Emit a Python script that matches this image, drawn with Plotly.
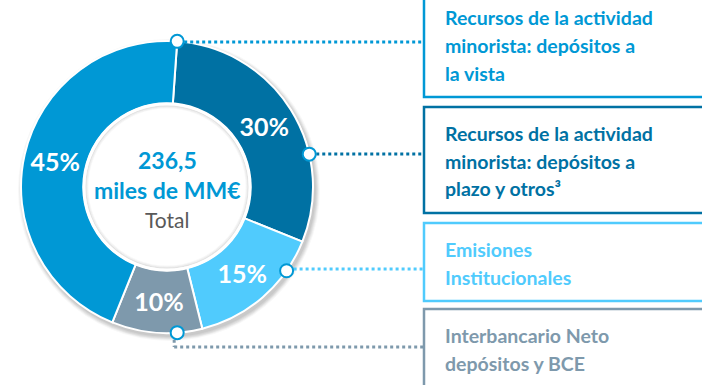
import math
import plotly.graph_objects as go

# Funding structure (share of total, %)
categories = [
    "Recursos de la actividad minorista: depósitos a plazo y otros³",
    "Emisiones Institucionales",
    "Interbancario Neto depósitos y BCE",
    "Recursos de la actividad minorista: depósitos a la vista",
]
shares = [30, 15, 10, 45]
colors = ["#0071A3", "#50CBFD", "#7E99AC", "#0098D5"]
total_value = "236,5"
total_unit = "miles de MM€"
total_label = "Total"

# Legend boxes: label lines and colour
box_lines = [
    ["Recursos de la actividad", "minorista: depósitos a", "la vista"],
    ["Recursos de la actividad", "minorista: depósitos a", "plazo y otros³"],
    ["Emisiones", "Institucionales"],
    ["Interbancario Neto", "depósitos y BCE"],
]
box_colors = ["#0098D5", "#0071A3", "#50CBFD", "#7E99AC"]

W, H = 702, 385
CX, CY, R, HOLE = 167, 187, 146, 0.57
ROT = 4
r_in = R * HOLE

fig = go.Figure()

# soft drop shadow behind the ring (hole kept white)
shapes = []
for k, op in enumerate([0.05, 0.05, 0.05, 0.04, 0.03]):
    rr = R + 1 + k
    shapes.append(dict(type="circle", xref="x", yref="y", layer="below",
                       x0=CX + 2 - rr, x1=CX + 2 + rr, y0=CY + 3 - rr, y1=CY + 3 + rr,
                       fillcolor=f"rgba(0,0,0,{op})", line=dict(width=0)))
shapes.append(dict(type="circle", xref="x", yref="y", layer="below",
                   x0=CX - r_in, x1=CX + r_in, y0=CY - r_in, y1=CY + r_in,
                   fillcolor="white", line=dict(width=0)))

fig.add_trace(go.Pie(
    labels=categories,
    values=shares,
    sort=False,
    direction="clockwise",
    rotation=ROT,
    hole=HOLE,
    marker=dict(colors=colors, line=dict(color="white", width=2)),
    texttemplate="%{percent:.0%}",
    textposition="inside",
    insidetextorientation="horizontal",
    textfont=dict(family="Lato", size=25, color="white", weight="bold"),
    domain=dict(x=[(CX - R) / W, (CX + R) / W], y=[1 - (CY + R) / H, 1 - (CY - R) / H]),
    hoverinfo="label+percent",
    showlegend=False,
))

# Pixel-space overlay axes for the connectors and boxes
fig.update_layout(
    xaxis=dict(range=[0, W], visible=False, fixedrange=True),
    yaxis=dict(range=[H, 0], visible=False, fixedrange=True),
)

def edge_point(angle_deg, r=R):
    a = math.radians(angle_deg)
    return CX + r * math.sin(a), CY - r * math.cos(a)

# inner rim of the hole: faint shadow plus white border
for k, op in enumerate([0.10, 0.06, 0.03]):
    rr = r_in - 2 - k
    shapes.append(dict(type="circle", xref="x", yref="y", layer="above",
                       x0=CX - rr, x1=CX + rr, y0=CY - rr, y1=CY + rr,
                       line=dict(color=f"rgba(0,0,0,{op})", width=1.2)))
shapes.append(dict(type="circle", xref="x", yref="y", layer="above",
                   x0=CX - r_in, x1=CX + r_in, y0=CY - r_in, y1=CY + r_in,
                   line=dict(color="white", width=3)))

# connector anchor angles on the outer edge (clockwise from 12 o'clock)
anchor_angles = [ROT, 77, 125, 176]
line_ys = [42, 154, 269, 347]
BOX_X = 424

for i, ang in enumerate(anchor_angles):
    px, py = edge_point(ang)
    col = box_colors[i]
    if abs(line_ys[i] - py) > 6:
        shapes.append(dict(type="line", xref="x", yref="y", x0=px - 3, y0=py + 7,
                           x1=px - 3, y1=line_ys[i], line=dict(color=col, width=3, dash="dot")))
        shapes.append(dict(type="line", xref="x", yref="y", x0=px - 3, y0=line_ys[i],
                           x1=BOX_X, y1=line_ys[i], line=dict(color=col, width=3, dash="dot")))
    else:
        shapes.append(dict(type="line", xref="x", yref="y", x0=px + 7, y0=line_ys[i],
                           x1=BOX_X, y1=line_ys[i], line=dict(color=col, width=3, dash="dot")))
    shapes.append(dict(type="circle", xref="x", yref="y", layer="above",
                       x0=px - 6.5, x1=px + 6.5, y0=py - 6.5, y1=py + 6.5,
                       fillcolor="white", line=dict(color="#0098D5", width=2)))

# legend boxes (top, bottom)
box_spans = [(-5, 97), (107, 213), (223, 301), (309, 395)]
for (y0, y1), col in zip(box_spans, box_colors):
    shapes.append(dict(type="rect", xref="x", yref="y", x0=BOX_X, x1=W + 10, y0=y0, y1=y1,
                       line=dict(color=col, width=2.5), fillcolor="rgba(0,0,0,0)"))

annotations = []
line_centers = [[17, 45, 73], [133, 161, 188], [249, 277], [335, 363]]
for lines, ys, col in zip(box_lines, line_centers, box_colors):
    for txt, y in zip(lines, ys):
        annotations.append(dict(x=443, y=y, xref="x", yref="y", text=f"<b>{txt}</b>",
                                showarrow=False, xanchor="left", yanchor="middle",
                                font=dict(family="Lato", size=19.5, color=col)))

annotations += [
    dict(x=CX, y=160, xref="x", yref="y", text=f"<b>{total_value}</b>", showarrow=False,
         font=dict(family="Lato", size=23, color="#0098D5")),
    dict(x=CX, y=190, xref="x", yref="y", text=f"<b>{total_unit}</b>", showarrow=False,
         font=dict(family="Lato", size=23, color="#0098D5")),
    dict(x=CX, y=219, xref="x", yref="y", text=total_label, showarrow=False,
         font=dict(family="Lato", size=21, color="#595959")),
]

fig.update_layout(
    width=W, height=H,
    margin=dict(l=0, r=0, t=0, b=0),
    paper_bgcolor="white", plot_bgcolor="rgba(0,0,0,0)",
    shapes=shapes, annotations=annotations,
)

fig.write_html("out.html")
